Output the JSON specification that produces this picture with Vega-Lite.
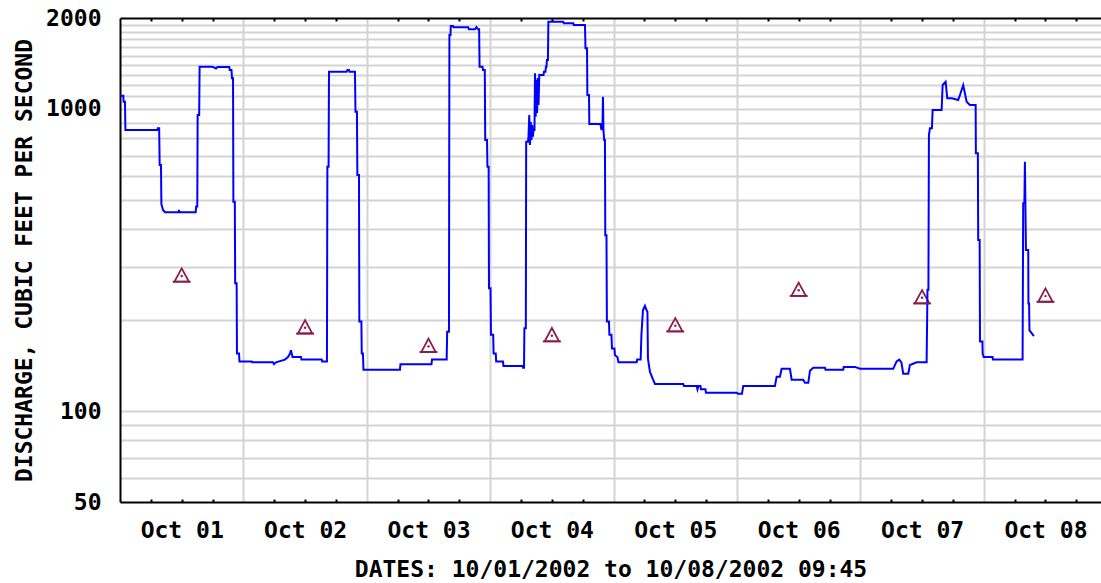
{
"$schema": "https://vega.github.io/schema/vega-lite/v6.json",
"width": 981, "height": 484,
"autosize": "none",
"padding": {"left": 120, "top": 18, "right": 0, "bottom": 81},
"background": "white",
"config": {
  "view": {"stroke": null},
  "axis": {"labelFont": "DejaVu Sans Mono", "labelFontWeight": "bold", "labelFontSize": 23, "labelColor": "#000000",
           "titleFont": "DejaVu Sans Mono", "titleFontWeight": "bold", "titleFontSize": 23, "titleColor": "#000000"}
},
"datasets": {
  "flow": [
{"t":"2002-10-01T00:00","v":1106},{"t":"2002-10-01T00:39","v":1106},{"t":"2002-10-01T00:42","v":1057},{"t":"2002-10-01T00:58","v":1057},
{"t":"2002-10-01T01:03","v":852},{"t":"2002-10-01T07:15","v":852},{"t":"2002-10-01T07:21","v":863},{"t":"2002-10-01T07:37","v":863},
{"t":"2002-10-01T07:43","v":652},{"t":"2002-10-01T07:58","v":652},{"t":"2002-10-01T08:03","v":484},{"t":"2002-10-01T08:22","v":463},
{"t":"2002-10-01T08:45","v":455},{"t":"2002-10-01T11:23","v":455},{"t":"2002-10-01T11:28","v":463},{"t":"2002-10-01T11:34","v":455},
{"t":"2002-10-01T14:43","v":455},{"t":"2002-10-01T14:49","v":475},{"t":"2002-10-01T15:02","v":475},{"t":"2002-10-01T15:06","v":955},
{"t":"2002-10-01T15:24","v":955},{"t":"2002-10-01T15:29","v":1380},{"t":"2002-10-01T17:42","v":1380},{"t":"2002-10-01T18:05","v":1377},
{"t":"2002-10-01T18:40","v":1361},{"t":"2002-10-01T18:58","v":1377},{"t":"2002-10-01T21:15","v":1377},{"t":"2002-10-01T21:21","v":1346},
{"t":"2002-10-01T21:41","v":1346},{"t":"2002-10-01T21:47","v":1263},{"t":"2002-10-01T21:59","v":1263},{"t":"2002-10-01T22:03","v":493},
{"t":"2002-10-01T22:20","v":493},{"t":"2002-10-01T22:24","v":265},{"t":"2002-10-01T22:41","v":265},{"t":"2002-10-01T22:45","v":155},
{"t":"2002-10-01T23:09","v":155},{"t":"2002-10-01T23:14","v":146},
{"t":"2002-10-02T01:37","v":146},{"t":"2002-10-02T01:43","v":145},{"t":"2002-10-02T05:45","v":145},{"t":"2002-10-02T05:57","v":143},
{"t":"2002-10-02T06:20","v":145},{"t":"2002-10-02T08:05","v":148},{"t":"2002-10-02T08:40","v":151},{"t":"2002-10-02T09:04","v":155},
{"t":"2002-10-02T09:15","v":159},{"t":"2002-10-02T09:33","v":151},{"t":"2002-10-02T11:12","v":151},{"t":"2002-10-02T11:18","v":148},
{"t":"2002-10-02T15:14","v":148},{"t":"2002-10-02T15:19","v":146},{"t":"2002-10-02T16:15","v":146},{"t":"2002-10-02T16:20","v":644},
{"t":"2002-10-02T16:34","v":644},{"t":"2002-10-02T16:39","v":1328},{"t":"2002-10-02T20:05","v":1328},{"t":"2002-10-02T20:15","v":1346},
{"t":"2002-10-02T20:32","v":1346},{"t":"2002-10-02T20:38","v":1328},{"t":"2002-10-02T21:42","v":1328},{"t":"2002-10-02T21:48","v":979},
{"t":"2002-10-02T22:05","v":979},{"t":"2002-10-02T22:10","v":604},{"t":"2002-10-02T22:29","v":604},{"t":"2002-10-02T22:33","v":198},
{"t":"2002-10-02T22:57","v":198},{"t":"2002-10-02T23:01","v":155},{"t":"2002-10-02T23:15","v":155},{"t":"2002-10-02T23:21","v":137},
{"t":"2002-10-03T06:27","v":137},{"t":"2002-10-03T06:33","v":143},{"t":"2002-10-03T12:35","v":143},{"t":"2002-10-03T12:41","v":148},
{"t":"2002-10-03T15:32","v":148},{"t":"2002-10-03T15:38","v":183},{"t":"2002-10-03T15:59","v":183},{"t":"2002-10-03T16:04","v":1757},
{"t":"2002-10-03T16:17","v":1757},{"t":"2002-10-03T16:20","v":1882},{"t":"2002-10-03T16:46","v":1882},{"t":"2002-10-03T16:52","v":1863},
{"t":"2002-10-03T19:44","v":1863},{"t":"2002-10-03T19:50","v":1835},{"t":"2002-10-03T21:02","v":1835},{"t":"2002-10-03T21:20","v":1867},
{"t":"2002-10-03T21:37","v":1835},{"t":"2002-10-03T21:51","v":1835},{"t":"2002-10-03T21:56","v":1380},{"t":"2002-10-03T22:30","v":1380},
{"t":"2002-10-03T22:36","v":1346},{"t":"2002-10-03T22:57","v":1346},{"t":"2002-10-03T23:02","v":789},{"t":"2002-10-03T23:23","v":789},
{"t":"2002-10-03T23:28","v":644},{"t":"2002-10-03T23:42","v":644},{"t":"2002-10-03T23:46","v":255},
{"t":"2002-10-04T00:04","v":255},{"t":"2002-10-04T00:09","v":179},{"t":"2002-10-04T00:35","v":179},{"t":"2002-10-04T00:40","v":155},
{"t":"2002-10-04T01:05","v":155},{"t":"2002-10-04T01:10","v":146},{"t":"2002-10-04T02:29","v":146},{"t":"2002-10-04T02:35","v":141},
{"t":"2002-10-04T06:17","v":141},{"t":"2002-10-04T06:23","v":139},{"t":"2002-10-04T06:35","v":139},{"t":"2002-10-04T06:39","v":188},
{"t":"2002-10-04T06:56","v":188},{"t":"2002-10-04T07:00","v":779},{"t":"2002-10-04T07:21","v":779},{"t":"2002-10-04T07:27","v":809},
{"t":"2002-10-04T07:36","v":955},{"t":"2002-10-04T07:44","v":760},{"t":"2002-10-04T07:54","v":905},{"t":"2002-10-04T08:02","v":789},
{"t":"2002-10-04T08:11","v":885},{"t":"2002-10-04T08:19","v":809},{"t":"2002-10-04T08:25","v":852},{"t":"2002-10-04T08:37","v":852},
{"t":"2002-10-04T08:43","v":1312},{"t":"2002-10-04T08:51","v":942},{"t":"2002-10-04T08:59","v":1247},{"t":"2002-10-04T09:07","v":970},
{"t":"2002-10-04T09:15","v":1266},{"t":"2002-10-04T09:24","v":1031},{"t":"2002-10-04T09:33","v":1295},{"t":"2002-10-04T10:22","v":1295},
{"t":"2002-10-04T10:28","v":1328},{"t":"2002-10-04T10:45","v":1328},{"t":"2002-10-04T10:50","v":1380},{"t":"2002-10-04T10:57","v":1380},
{"t":"2002-10-04T11:02","v":1452},{"t":"2002-10-04T11:14","v":1452},{"t":"2002-10-04T11:19","v":1944},{"t":"2002-10-04T14:13","v":1944},
{"t":"2002-10-04T14:19","v":1921},{"t":"2002-10-04T16:10","v":1921},{"t":"2002-10-04T16:15","v":1896},{"t":"2002-10-04T18:26","v":1896},
{"t":"2002-10-04T18:32","v":1587},{"t":"2002-10-04T18:50","v":1587},{"t":"2002-10-04T18:54","v":1112},{"t":"2002-10-04T19:13","v":1112},
{"t":"2002-10-04T19:17","v":891},{"t":"2002-10-04T21:27","v":891},{"t":"2002-10-04T21:39","v":852},{"t":"2002-10-04T21:50","v":871},
{"t":"2002-10-04T21:56","v":1098},{"t":"2002-10-04T22:02","v":852},{"t":"2002-10-04T22:10","v":789},{"t":"2002-10-04T22:19","v":789},
{"t":"2002-10-04T22:23","v":382},{"t":"2002-10-04T22:37","v":382},{"t":"2002-10-04T22:42","v":198},{"t":"2002-10-04T23:06","v":198},
{"t":"2002-10-04T23:11","v":179},{"t":"2002-10-04T23:35","v":179},{"t":"2002-10-04T23:41","v":161},
{"t":"2002-10-05T00:10","v":161},{"t":"2002-10-05T00:16","v":153},{"t":"2002-10-05T00:45","v":151},{"t":"2002-10-05T00:57","v":145},
{"t":"2002-10-05T04:29","v":145},{"t":"2002-10-05T04:35","v":148},{"t":"2002-10-05T05:16","v":148},{"t":"2002-10-05T05:25","v":179},
{"t":"2002-10-05T05:43","v":216},{"t":"2002-10-05T06:06","v":223},{"t":"2002-10-05T06:24","v":216},{"t":"2002-10-05T06:35","v":213},
{"t":"2002-10-05T06:41","v":149},{"t":"2002-10-05T07:04","v":135},{"t":"2002-10-05T07:36","v":128},{"t":"2002-10-05T08:03","v":123},
{"t":"2002-10-05T13:33","v":123},{"t":"2002-10-05T13:41","v":121},{"t":"2002-10-05T16:09","v":121},{"t":"2002-10-05T16:19","v":118},
{"t":"2002-10-05T16:30","v":121},{"t":"2002-10-05T16:54","v":121},{"t":"2002-10-05T17:00","v":118},{"t":"2002-10-05T17:52","v":118},
{"t":"2002-10-05T17:58","v":115},{"t":"2002-10-05T23:56","v":115},
{"t":"2002-10-06T00:11","v":114},{"t":"2002-10-06T00:58","v":114},{"t":"2002-10-06T01:13","v":121},{"t":"2002-10-06T07:23","v":121},
{"t":"2002-10-06T07:43","v":130},{"t":"2002-10-06T08:21","v":130},{"t":"2002-10-06T08:41","v":138},{"t":"2002-10-06T10:18","v":138},
{"t":"2002-10-06T10:38","v":127},{"t":"2002-10-06T12:53","v":127},{"t":"2002-10-06T13:13","v":124},{"t":"2002-10-06T13:52","v":124},
{"t":"2002-10-06T14:12","v":136},{"t":"2002-10-06T14:50","v":139},{"t":"2002-10-06T17:07","v":139},{"t":"2002-10-06T17:13","v":137},
{"t":"2002-10-06T20:40","v":137},{"t":"2002-10-06T20:46","v":140},{"t":"2002-10-06T22:57","v":140},{"t":"2002-10-06T23:54","v":138},
{"t":"2002-10-07T06:23","v":138},{"t":"2002-10-07T07:03","v":146},{"t":"2002-10-07T07:34","v":148},{"t":"2002-10-07T07:59","v":145},
{"t":"2002-10-07T08:20","v":133},{"t":"2002-10-07T09:19","v":133},{"t":"2002-10-07T09:38","v":142},{"t":"2002-10-07T10:57","v":145},
{"t":"2002-10-07T12:53","v":145},{"t":"2002-10-07T13:03","v":252},{"t":"2002-10-07T13:14","v":252},{"t":"2002-10-07T13:20","v":820},
{"t":"2002-10-07T13:32","v":863},{"t":"2002-10-07T13:55","v":863},{"t":"2002-10-07T14:03","v":992},{"t":"2002-10-07T15:48","v":992},
{"t":"2002-10-07T16:00","v":1200},{"t":"2002-10-07T16:35","v":1230},{"t":"2002-10-07T16:54","v":1085},{"t":"2002-10-07T17:48","v":1085},
{"t":"2002-10-07T19:02","v":1071},{"t":"2002-10-07T19:22","v":1112},{"t":"2002-10-07T20:00","v":1200},{"t":"2002-10-07T20:40","v":1057},
{"t":"2002-10-07T21:18","v":1031},{"t":"2002-10-07T22:25","v":1031},{"t":"2002-10-07T22:28","v":713},{"t":"2002-10-07T22:51","v":713},
{"t":"2002-10-07T22:55","v":368},{"t":"2002-10-07T23:12","v":368},{"t":"2002-10-07T23:16","v":170},{"t":"2002-10-07T23:44","v":170},
{"t":"2002-10-07T23:47","v":155},{"t":"2002-10-07T23:59","v":151},
{"t":"2002-10-08T01:43","v":151},{"t":"2002-10-08T01:46","v":148},{"t":"2002-10-08T07:33","v":148},{"t":"2002-10-08T07:40","v":487},
{"t":"2002-10-08T07:54","v":487},{"t":"2002-10-08T08:00","v":669},{"t":"2002-10-08T08:12","v":341},{"t":"2002-10-08T08:39","v":341},
{"t":"2002-10-08T08:41","v":227},{"t":"2002-10-08T08:49","v":227},{"t":"2002-10-08T08:53","v":185},{"t":"2002-10-08T09:19","v":181},
{"t":"2002-10-08T09:45","v":177}
  ],
  "med": [
{"t":"2002-10-01T12:00","v":282},{"t":"2002-10-02T12:00","v":190},{"t":"2002-10-03T12:00","v":165},{"t":"2002-10-04T12:00","v":179},
{"t":"2002-10-05T12:00","v":193},{"t":"2002-10-06T12:00","v":253},{"t":"2002-10-07T12:00","v":239},{"t":"2002-10-08T12:00","v":242}
  ]
},
"layer": [
  {
    "data": {"name": "med"},
    "mark": {"type": "point", "shape": "M0,-0.74L0.8,0.74L-0.8,0.74Z", "size": 324, "filled": false, "stroke": "#8b1c4b", "strokeWidth": 1.8, "opacity": 1},
    "encoding": {
      "x": {"field": "t", "type": "temporal",
        "scale": {"domain": [{"year": 2002, "month": 10, "date": 1, "hours": 0}, {"year": 2002, "month": 10, "date": 8, "hours": 22, "minutes": 48}]},
        "axis": {"orient": "bottom", "title": null, "labels": false, "ticks": false, "domain": false, "grid": true, "gridColor": "#d3d3d3", "gridWidth": 2,
          "values": [{"year":2002,"month":10,"date":2},{"year":2002,"month":10,"date":3},{"year":2002,"month":10,"date":4},{"year":2002,"month":10,"date":5},{"year":2002,"month":10,"date":6},{"year":2002,"month":10,"date":7},{"year":2002,"month":10,"date":8}]}},
      "y": {"field": "v", "type": "quantitative",
        "scale": {"type": "log", "domain": [50, 2000], "nice": false},
        "axis": {"orient": "left", "title": null, "labels": false, "ticks": false, "domain": false, "grid": true, "gridColor": "#d3d3d3", "gridWidth": 2,
          "values": [60,70,80,90,100,200,300,400,500,600,700,800,900,1000,1100,1200,1300,1400,1500,1600,1700,1800,1900]}}
    }
  },
  {
    "data": {"name": "flow"},
    "mark": {"type": "line", "color": "#0000ff", "strokeWidth": 2},
    "encoding": {
      "x": {"field": "t", "type": "temporal",
        "scale": {"domain": [{"year": 2002, "month": 10, "date": 1, "hours": 0}, {"year": 2002, "month": 10, "date": 8, "hours": 22, "minutes": 48}]},
        "axis": {"orient": "bottom", "title": "DATES: 10/01/2002 to 10/08/2002 09:45", "titlePadding": 16, "format": "%b %d",
          "ticks": false, "grid": false, "domain": true, "domainColor": "#000000", "domainWidth": 2, "labelPadding": 17, "labelFlush": false, "labelOverlap": false,
          "values": [{"year":2002,"month":10,"date":1,"hours":12},{"year":2002,"month":10,"date":2,"hours":12},{"year":2002,"month":10,"date":3,"hours":12},{"year":2002,"month":10,"date":4,"hours":12},{"year":2002,"month":10,"date":5,"hours":12},{"year":2002,"month":10,"date":6,"hours":12},{"year":2002,"month":10,"date":7,"hours":12},{"year":2002,"month":10,"date":8,"hours":12}]}},
      "y": {"field": "v", "type": "quantitative",
        "scale": {"type": "log", "domain": [50, 2000], "nice": false},
        "axis": {"orient": "left", "title": "DISCHARGE, CUBIC FEET PER SECOND", "titlePadding": 9, "values": [50, 100, 1000, 2000], "format": "d",
          "ticks": false, "grid": false, "domain": true, "domainColor": "#000000", "domainWidth": 2, "labelPadding": 19, "labelFlush": false, "labelOverlap": false}}
    }
  },
  {
    "data": {"name": "med"},
    "mark": {"type": "point", "shape": "circle", "size": 6, "filled": true, "color": "#8b1c4b", "opacity": 1, "yOffset": 1},
    "encoding": {
      "x": {"field": "t", "type": "temporal",
        "scale": {"domain": [{"year": 2002, "month": 10, "date": 1, "hours": 0}, {"year": 2002, "month": 10, "date": 8, "hours": 22, "minutes": 48}]},
        "axis": {"orient": "bottom", "title": null, "labels": false, "domain": false, "grid": false, "ticks": true, "tickSize": -3, "tickWidth": 2, "tickColor": "#000000",
          "values": [{"year":2002,"month":10,"date":1,"hours":6},{"year":2002,"month":10,"date":1,"hours":12},{"year":2002,"month":10,"date":1,"hours":18},
                     {"year":2002,"month":10,"date":2,"hours":6},{"year":2002,"month":10,"date":2,"hours":12},{"year":2002,"month":10,"date":2,"hours":18},
                     {"year":2002,"month":10,"date":3,"hours":6},{"year":2002,"month":10,"date":3,"hours":12},{"year":2002,"month":10,"date":3,"hours":18},
                     {"year":2002,"month":10,"date":4,"hours":6},{"year":2002,"month":10,"date":4,"hours":12},{"year":2002,"month":10,"date":4,"hours":18},
                     {"year":2002,"month":10,"date":5,"hours":6},{"year":2002,"month":10,"date":5,"hours":12},{"year":2002,"month":10,"date":5,"hours":18},
                     {"year":2002,"month":10,"date":6,"hours":6},{"year":2002,"month":10,"date":6,"hours":12},{"year":2002,"month":10,"date":6,"hours":18},
                     {"year":2002,"month":10,"date":7,"hours":6},{"year":2002,"month":10,"date":7,"hours":12},{"year":2002,"month":10,"date":7,"hours":18},
                     {"year":2002,"month":10,"date":8,"hours":6},{"year":2002,"month":10,"date":8,"hours":12},{"year":2002,"month":10,"date":8,"hours":18}]}},
      "y": {"field": "v", "type": "quantitative", "scale": {"type": "log", "domain": [50, 2000], "nice": false}, "axis": null}
    }
  },
  {
    "data": {"name": "med"},
    "mark": {"type": "point", "shape": "M-1,0.74L1,0.74", "size": 324, "filled": false, "stroke": "#8b1c4b", "strokeWidth": 1.8, "opacity": 1},
    "encoding": {
      "x": {"field": "t", "type": "temporal",
        "scale": {"domain": [{"year": 2002, "month": 10, "date": 1, "hours": 0}, {"year": 2002, "month": 10, "date": 8, "hours": 22, "minutes": 48}]},
        "axis": {"orient": "top", "title": null, "labels": false, "domain": true, "domainColor": "#000000", "domainWidth": 2, "grid": false, "ticks": true, "tickSize": -3, "tickWidth": 2, "tickColor": "#000000",
          "values": [{"year":2002,"month":10,"date":1,"hours":6},{"year":2002,"month":10,"date":1,"hours":12},{"year":2002,"month":10,"date":1,"hours":18},
                     {"year":2002,"month":10,"date":2,"hours":6},{"year":2002,"month":10,"date":2,"hours":12},{"year":2002,"month":10,"date":2,"hours":18},
                     {"year":2002,"month":10,"date":3,"hours":6},{"year":2002,"month":10,"date":3,"hours":12},{"year":2002,"month":10,"date":3,"hours":18},
                     {"year":2002,"month":10,"date":4,"hours":6},{"year":2002,"month":10,"date":4,"hours":12},{"year":2002,"month":10,"date":4,"hours":18},
                     {"year":2002,"month":10,"date":5,"hours":6},{"year":2002,"month":10,"date":5,"hours":12},{"year":2002,"month":10,"date":5,"hours":18},
                     {"year":2002,"month":10,"date":6,"hours":6},{"year":2002,"month":10,"date":6,"hours":12},{"year":2002,"month":10,"date":6,"hours":18},
                     {"year":2002,"month":10,"date":7,"hours":6},{"year":2002,"month":10,"date":7,"hours":12},{"year":2002,"month":10,"date":7,"hours":18},
                     {"year":2002,"month":10,"date":8,"hours":6},{"year":2002,"month":10,"date":8,"hours":12},{"year":2002,"month":10,"date":8,"hours":18}]}},
      "y": {"field": "v", "type": "quantitative", "scale": {"type": "log", "domain": [50, 2000], "nice": false}, "axis": null}
    }
  }
],
"resolve": {"axis": {"x": "independent", "y": "independent"}}
}
